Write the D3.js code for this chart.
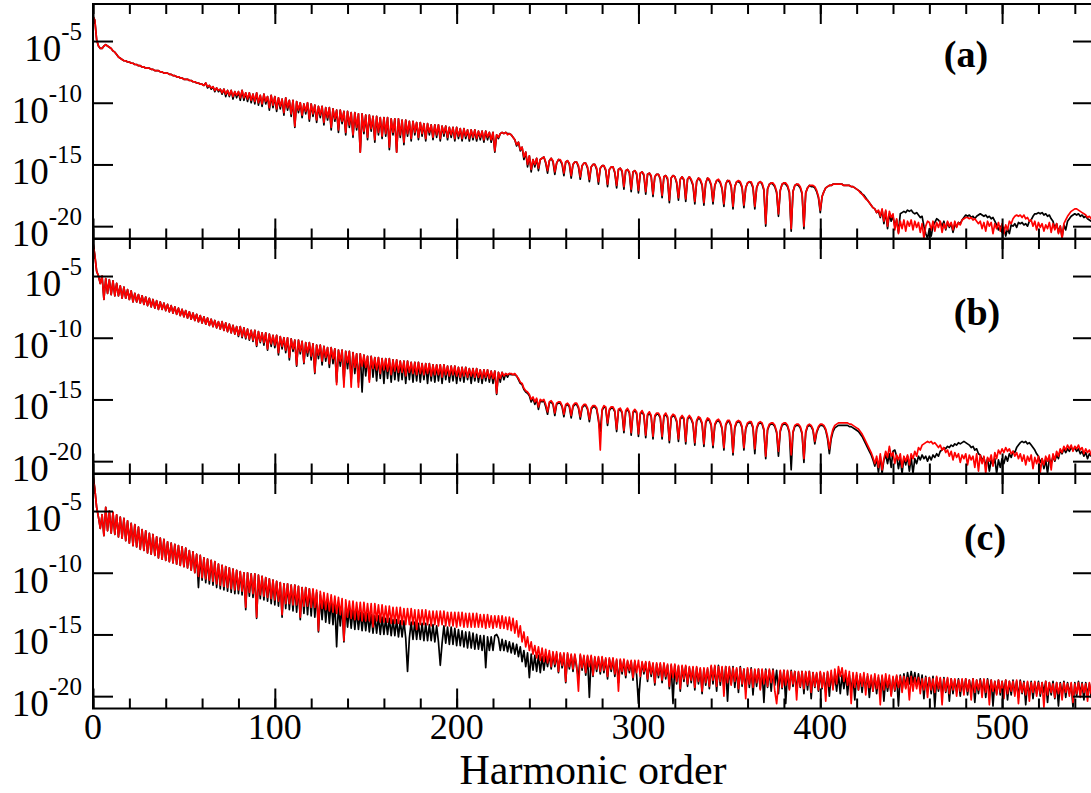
<!DOCTYPE html>
<html>
<head>
<meta charset="utf-8">
<script src="https://cdn.jsdelivr.net/npm/d3@7"></script>
<style>
	body{margin:0;background:#fff;}
	svg{display:block;}
	text{font-family:"Liberation Serif","Times New Roman",serif;fill:#000;}
</style>
</head>
<body>
<svg id="chart" width="1091" height="793"></svg>
<script>
	// harmonic order of every sample, values below are log10 of the intensity
	var harmonics = d3.range(0, 551);

	var aRed = [
		-3.0,-3.3,-4.9,-5.4,-5.6,-5.6,-5.4,-5.3,-5.4,-5.5,
		-5.6,-5.8,-5.9,-6.1,-6.3,-6.4,-6.5,-6.6,-6.6,-6.7,
		-6.7,-6.8,-6.8,-6.9,-6.9,-7.0,-7.0,-7.1,-7.1,-7.2,
		-7.2,-7.2,-7.3,-7.3,-7.4,-7.4,-7.4,-7.5,-7.5,-7.6,
		-7.6,-7.6,-7.7,-7.7,-7.8,-7.8,-7.9,-7.9,-8.0,-8.0,
		-8.1,-8.1,-8.1,-8.2,-8.2,-8.3,-8.3,-8.4,-8.4,-8.5,
		-8.5,-8.6,-8.4,-8.7,-8.6,-8.8,-8.7,-9.0,-8.8,-9.0,
		-8.9,-9.2,-8.9,-9.3,-9.0,-9.4,-9.0,-9.5,-9.1,-9.4,
		-9.1,-9.6,-9.0,-9.6,-9.2,-9.7,-9.2,-9.8,-9.3,-9.9,
		-9.2,-10.0,-9.4,-10.1,-9.3,-9.9,-9.5,-10.4,-9.4,-10.2,
		-9.5,-10.5,-9.6,-10.3,-9.7,-10.8,-9.6,-10.4,-9.8,-10.9,
		-9.8,-11.9,-9.9,-10.6,-10.0,-11.0,-10.1,-10.7,-10.0,-11.3,
		-10.1,-10.9,-10.2,-11.4,-10.3,-11.0,-10.3,-11.6,-10.4,-11.2,
		-10.4,-12.0,-10.5,-11.3,-10.6,-12.2,-10.6,-11.5,-10.7,-12.4,
		-10.7,-11.8,-10.8,-12.6,-10.8,-12.0,-10.9,-14.0,-10.9,-12.3,
		-11.0,-12.8,-11.0,-12.1,-11.1,-13.0,-11.1,-12.4,-11.2,-12.7,
		-11.2,-12.5,-11.2,-13.6,-11.3,-12.4,-11.3,-14.0,-11.3,-12.6,
		-11.4,-13.2,-11.4,-12.5,-11.5,-12.9,-11.5,-12.4,-11.6,-12.8,
		-11.6,-12.5,-11.7,-12.9,-11.7,-12.4,-11.8,-12.8,-11.8,-12.6,
		-11.8,-12.9,-11.9,-12.5,-11.9,-12.8,-12.0,-12.6,-12.0,-12.9,
		-12.0,-12.7,-12.1,-12.9,-12.1,-12.7,-12.2,-12.9,-12.2,-12.8,
		-12.2,-12.9,-12.3,-12.8,-12.3,-13.0,-12.3,-12.8,-12.4,-13.0,
		-12.4,-13.9,-12.6,-12.8,-12.5,-12.4,-12.5,-12.4,-12.6,-12.5,
		-12.6,-12.8,-13.0,-13.4,-13.2,-13.8,-13.6,-14.4,-14.0,-15.0,
		-14.3,-15.4,-14.6,-15.0,-14.5,-15.3,-14.6,-14.5,-14.4,-14.8,
		-15.5,-14.7,-14.5,-14.7,-15.6,-14.9,-14.6,-14.6,-14.9,-15.7,
		-14.8,-14.7,-14.9,-15.9,-15.0,-14.8,-14.8,-15.1,-16.0,-15.1,
		-14.9,-14.9,-15.2,-16.2,-15.2,-15.0,-15.0,-15.3,-16.4,-15.3,
		-15.1,-15.1,-15.4,-16.6,-15.4,-15.2,-15.2,-15.6,-16.7,-15.4,
		-15.3,-15.5,-16.8,-15.5,-15.4,-15.6,-17.0,-15.6,-15.5,-15.7,
		-17.1,-15.7,-15.6,-15.8,-17.2,-15.8,-15.7,-15.9,-17.4,-16.0,
		-15.8,-15.8,-16.1,-17.5,-16.0,-15.9,-16.1,-17.9,-16.1,-15.9,
		-16.0,-16.4,-17.7,-16.2,-16.0,-16.2,-17.8,-16.2,-16.0,-16.2,
		-16.6,-18.0,-16.4,-16.1,-16.2,-16.6,-18.1,-16.5,-16.1,-16.2,
		-16.6,-18.0,-16.7,-16.3,-16.2,-16.4,-16.9,-18.2,-16.6,-16.3,
		-16.3,-16.7,-18.4,-16.8,-16.4,-16.3,-16.4,-16.8,-18.3,-16.9,
		-16.5,-16.4,-16.4,-16.8,-18.4,-16.9,-16.5,-16.4,-16.5,-17.0,
		-19.8,-17.0,-16.6,-16.5,-16.5,-16.7,-17.2,-19.0,-17.1,-16.6,
		-16.5,-16.5,-16.7,-17.2,-20.2,-17.2,-16.7,-16.6,-16.6,-16.8,
		-17.3,-20.0,-17.3,-16.9,-16.7,-16.7,-16.7,-16.8,-17.1,-17.6,
		-18.7,-17.6,-17.2,-16.9,-16.8,-16.7,-16.7,-16.6,-16.6,-16.6,
		-16.6,-16.6,-16.6,-16.7,-16.7,-16.7,-16.7,-16.8,-16.8,-16.9,
		-17.0,-17.1,-17.3,-17.4,-17.6,-17.8,-17.9,-18.1,-18.3,-18.5,
		-18.6,-18.9,-18.7,-19.2,-18.6,-19.6,-18.7,-20.0,-18.8,-19.3,
		-19.0,-20.3,-19.4,-20.6,-19.6,-20.2,-19.5,-20.4,-19.6,-20.0,
		-19.5,-20.3,-19.6,-20.1,-19.7,-20.5,-19.8,-21.0,-20.0,-19.6,
		-19.7,-20.3,-19.6,-20.4,-19.7,-20.1,-19.6,-20.5,-19.8,-20.2,
		-19.6,-20.0,-19.7,-20.3,-19.6,-20.1,-19.7,-19.9,-19.5,-19.4,
		-19.3,-19.3,-19.4,-19.3,-19.5,-19.4,-19.6,-19.8,-19.6,-20.2,
		-19.7,-20.4,-19.6,-20.0,-19.7,-20.6,-19.8,-20.2,-19.7,-20.4,
		-19.8,-20.6,-19.9,-20.3,-19.6,-19.8,-19.4,-19.2,-19.1,-19.2,
		-19.1,-19.3,-19.1,-19.4,-19.3,-19.6,-19.5,-20.0,-19.6,-20.3,
		-19.7,-20.1,-19.8,-20.4,-19.9,-20.2,-19.7,-20.5,-19.8,-20.3,
		-19.8,-20.6,-20.0,-21.0,-19.8,-19.5,-19.2,-19.0,-18.8,-18.7,
		-18.6,-18.6,-18.7,-18.8,-18.9,-19.0,-19.1,-19.3,-19.2,-19.4,-19.3
	];
	var aBlack = [
		-3.0,-3.3,-4.9,-5.4,-5.6,-5.6,-5.4,-5.3,-5.4,-5.5,
		-5.6,-5.8,-5.9,-6.1,-6.3,-6.4,-6.5,-6.6,-6.6,-6.7,
		-6.7,-6.8,-6.8,-6.9,-6.9,-7.0,-7.0,-7.1,-7.1,-7.2,
		-7.2,-7.2,-7.3,-7.3,-7.4,-7.4,-7.4,-7.5,-7.5,-7.6,
		-7.6,-7.6,-7.7,-7.7,-7.8,-7.8,-7.9,-7.9,-8.0,-8.0,
		-8.1,-8.1,-8.1,-8.2,-8.2,-8.3,-8.3,-8.4,-8.4,-8.5,
		-8.5,-8.6,-8.4,-8.8,-8.6,-8.9,-8.7,-9.1,-8.8,-9.1,
		-8.9,-9.3,-8.9,-9.5,-9.0,-9.5,-9.0,-9.7,-9.1,-9.6,
		-9.1,-9.8,-9.0,-9.8,-9.2,-9.9,-9.2,-10.0,-9.3,-10.1,
		-9.2,-10.2,-9.4,-10.3,-9.3,-10.1,-9.5,-10.6,-9.4,-10.4,
		-9.5,-10.7,-9.6,-10.5,-9.7,-11.0,-9.6,-10.6,-9.8,-11.1,
		-9.8,-12.0,-9.9,-10.8,-10.0,-11.2,-10.1,-10.9,-10.0,-11.5,
		-10.1,-11.1,-10.2,-11.6,-10.3,-11.2,-10.3,-11.8,-10.4,-11.4,
		-10.4,-12.2,-10.5,-11.5,-10.6,-12.4,-10.6,-11.7,-10.7,-12.6,
		-10.7,-12.0,-10.8,-12.8,-10.8,-12.2,-10.9,-14.0,-10.9,-12.5,
		-11.0,-13.0,-11.0,-12.3,-11.1,-13.2,-11.1,-12.6,-11.2,-12.9,
		-11.2,-12.7,-11.2,-13.8,-11.3,-12.6,-11.3,-14.0,-11.3,-12.8,
		-11.4,-13.4,-11.4,-12.7,-11.5,-13.1,-11.5,-12.6,-11.6,-13.0,
		-11.6,-12.7,-11.7,-13.1,-11.7,-12.6,-11.8,-13.0,-11.8,-12.8,
		-11.8,-13.1,-11.9,-12.7,-11.9,-13.0,-12.0,-12.8,-12.0,-13.1,
		-12.0,-12.9,-12.1,-13.1,-12.1,-12.9,-12.2,-13.1,-12.2,-13.0,
		-12.2,-13.1,-12.3,-13.0,-12.3,-13.2,-12.3,-13.0,-12.4,-13.2,
		-12.4,-14.0,-12.6,-12.9,-12.5,-12.4,-12.5,-12.4,-12.5,-12.5,
		-12.6,-12.8,-13.0,-13.5,-13.2,-13.9,-13.6,-14.6,-14.0,-15.2,
		-14.3,-15.6,-14.6,-15.2,-14.5,-15.5,-14.6,-14.5,-14.4,-14.9,
		-15.7,-14.7,-14.5,-14.8,-15.8,-14.9,-14.6,-14.7,-15.0,-15.9,
		-14.8,-14.7,-15.0,-16.1,-15.0,-14.8,-14.8,-15.2,-16.2,-15.1,
		-14.9,-14.9,-15.3,-16.4,-15.2,-15.0,-15.0,-15.4,-16.6,-15.3,
		-15.1,-15.1,-15.5,-16.8,-15.4,-15.2,-15.2,-15.7,-16.9,-15.4,
		-15.3,-15.6,-17.0,-15.5,-15.4,-15.7,-17.2,-15.6,-15.5,-15.8,
		-17.3,-15.7,-15.6,-15.9,-17.4,-15.8,-15.7,-16.0,-17.6,-16.0,
		-15.8,-15.8,-16.2,-17.7,-16.0,-15.9,-16.2,-18.1,-16.1,-15.9,
		-16.0,-16.5,-17.9,-16.2,-16.0,-16.3,-18.0,-16.2,-16.0,-16.3,
		-16.7,-18.2,-16.4,-16.1,-16.3,-16.7,-18.3,-16.5,-16.1,-16.3,
		-16.7,-18.2,-16.7,-16.3,-16.3,-16.5,-17.0,-18.4,-16.6,-16.3,
		-16.4,-16.8,-18.6,-16.8,-16.4,-16.4,-16.5,-16.9,-18.5,-16.9,
		-16.5,-16.4,-16.5,-16.9,-18.6,-16.9,-16.5,-16.4,-16.6,-17.1,
		-20.0,-17.0,-16.6,-16.5,-16.6,-16.8,-17.3,-19.2,-17.1,-16.6,
		-16.5,-16.6,-16.8,-17.3,-20.4,-17.2,-16.7,-16.6,-16.7,-16.9,
		-17.4,-20.2,-17.3,-16.9,-16.7,-16.8,-16.8,-16.9,-17.2,-17.7,
		-18.9,-17.6,-17.2,-16.9,-16.8,-16.7,-16.7,-16.6,-16.6,-16.6,
		-16.6,-16.6,-16.6,-16.7,-16.7,-16.7,-16.7,-16.8,-16.8,-16.9,
		-17.0,-17.1,-17.2,-17.4,-17.5,-17.7,-17.9,-18.1,-18.3,-18.5,
		-18.6,-18.9,-18.8,-19.3,-18.7,-19.8,-18.8,-20.2,-19.0,-19.6,
		-19.2,-20.0,-19.5,-20.5,-19.0,-18.9,-18.8,-18.9,-18.7,-18.8,
		-18.7,-18.9,-19.0,-18.9,-19.1,-19.3,-19.2,-20.0,-20.6,-21.0,
		-20.2,-20.8,-20.0,-19.7,-19.4,-19.5,-19.7,-20.0,-19.6,-20.3,
		-19.7,-20.1,-19.8,-20.5,-19.9,-20.0,-19.7,-19.8,-19.5,-19.3,
		-19.1,-19.2,-19.1,-19.3,-19.2,-19.4,-19.2,-19.1,-19.0,-19.1,
		-19.2,-19.1,-19.3,-19.2,-19.4,-19.3,-19.6,-19.9,-20.3,-20.0,
		-20.5,-20.1,-20.8,-20.2,-20.6,-19.9,-20.0,-19.8,-20.1,-19.7,
		-19.8,-19.7,-19.9,-19.8,-20.0,-19.6,-19.5,-19.2,-19.0,-19.0,
		-18.9,-19.0,-18.9,-19.1,-19.0,-19.2,-19.1,-19.4,-19.6,-20.2,
		-19.8,-20.5,-20.0,-20.9,-19.9,-20.3,-19.6,-19.4,-19.2,-19.1,
		-19.0,-19.1,-19.0,-19.2,-19.1,-19.3,-19.2,-19.4,-19.5,-19.6,-19.6
	];

	var bRed = [
		-2.3,-3.3,-4.6,-5.0,-5.6,-5.0,-6.9,-5.2,-6.4,-5.3,
		-6.5,-5.4,-6.6,-5.6,-6.6,-5.8,-6.8,-5.9,-6.8,-6.1,
		-6.9,-6.2,-7.1,-6.4,-7.1,-6.5,-7.2,-6.6,-7.3,-6.7,
		-7.4,-6.8,-7.5,-6.9,-7.6,-7.0,-7.7,-7.1,-7.7,-7.2,
		-7.8,-7.3,-7.9,-7.4,-8.0,-7.5,-8.1,-7.6,-8.2,-7.7,
		-8.3,-7.8,-8.4,-7.9,-8.5,-8.0,-8.6,-8.1,-8.7,-8.2,
		-8.8,-8.3,-8.9,-8.4,-9.0,-8.5,-9.1,-8.6,-9.2,-8.7,
		-9.3,-8.7,-9.4,-8.8,-9.5,-8.9,-9.6,-9.0,-9.7,-9.1,
		-9.8,-9.1,-9.9,-9.2,-10.0,-9.3,-10.1,-9.4,-10.2,-9.4,
		-10.6,-9.5,-10.3,-9.6,-10.4,-9.6,-10.9,-9.7,-10.5,-9.8,
		-10.6,-9.8,-11.2,-9.9,-10.7,-10.0,-11.0,-10.0,-11.6,-10.1,
		-10.9,-10.2,-12.2,-10.2,-11.1,-10.3,-12.0,-10.4,-11.2,-10.4,
		-11.5,-10.5,-12.8,-10.6,-11.4,-10.6,-11.9,-10.7,-11.6,-10.8,
		-12.1,-10.8,-11.7,-10.9,-13.8,-11.0,-11.9,-11.0,-14.0,-11.1,
		-12.0,-11.1,-14.0,-11.2,-12.4,-11.3,-14.0,-11.3,-12.3,-11.4,
		-12.4,-11.5,-13.6,-11.5,-12.5,-11.6,-12.6,-11.6,-12.9,-11.7,
		-12.6,-11.7,-12.7,-11.7,-13.0,-11.8,-12.7,-11.8,-12.8,-11.9,
		-12.8,-11.9,-13.1,-11.9,-12.8,-12.0,-12.9,-12.0,-13.0,-12.0,
		-12.9,-12.1,-13.0,-12.1,-12.9,-12.1,-13.1,-12.2,-13.0,-12.2,
		-13.0,-12.2,-13.2,-12.2,-13.0,-12.3,-13.1,-12.3,-13.0,-12.3,
		-13.1,-12.4,-13.2,-12.4,-13.1,-12.4,-13.2,-12.5,-13.1,-12.5,
		-13.2,-12.5,-13.2,-12.6,-13.3,-12.6,-13.2,-12.6,-13.3,-12.7,
		-13.3,-12.7,-14.5,-12.8,-13.3,-12.8,-13.1,-12.9,-13.0,-12.9,
		-12.9,-13.0,-12.9,-13.1,-13.3,-13.6,-13.7,-14.1,-14.3,-14.4,
		-14.6,-15.0,-14.8,-15.2,-14.9,-15.6,-15.0,-15.1,-15.0,-15.4,
		-16.0,-15.2,-15.1,-15.3,-16.1,-15.3,-15.2,-15.2,-15.5,-16.2,
		-15.4,-15.3,-15.5,-16.3,-15.5,-15.3,-15.3,-15.6,-16.4,-15.6,
		-15.4,-15.4,-15.7,-16.6,-15.7,-15.5,-15.5,-15.7,-16.5,-19.1,
		-15.8,-15.5,-15.6,-16.9,-15.8,-15.6,-15.6,-15.9,-17.4,-15.8,
		-15.7,-16.0,-17.5,-15.9,-15.7,-16.0,-17.7,-16.0,-15.8,-16.0,
		-17.8,-16.1,-15.9,-16.2,-17.9,-16.2,-16.0,-16.3,-18.0,-16.3,
		-16.1,-16.1,-16.4,-18.0,-16.3,-16.1,-16.4,-18.3,-16.4,-16.2,
		-16.3,-16.7,-18.2,-16.5,-16.3,-16.5,-18.4,-16.5,-16.3,-16.5,
		-16.9,-18.5,-16.7,-16.4,-16.5,-16.9,-18.6,-16.8,-16.5,-16.6,
		-17.0,-18.7,-17.0,-16.7,-16.6,-16.8,-17.3,-18.9,-17.0,-16.7,
		-16.7,-17.1,-19.3,-17.2,-16.8,-16.7,-16.8,-17.2,-18.9,-17.3,
		-16.9,-16.8,-16.8,-17.2,-19.0,-17.3,-16.9,-16.8,-16.9,-17.4,
		-19.6,-17.4,-17.0,-16.9,-16.9,-17.1,-17.6,-19.2,-17.5,-17.0,
		-16.9,-16.9,-17.1,-17.6,-19.5,-17.6,-17.1,-17.0,-17.0,-17.2,
		-17.7,-19.8,-17.6,-17.1,-17.0,-17.1,-17.4,-18.4,-17.6,-17.2,
		-17.0,-17.0,-17.1,-17.4,-18.0,-19.0,-18.0,-17.4,-17.1,-17.0,
		-16.9,-16.9,-16.9,-16.9,-16.9,-16.9,-17.0,-17.0,-17.1,-17.2,
		-17.3,-17.4,-17.6,-17.8,-18.1,-18.4,-18.7,-19.0,-19.3,-19.7,
		-20.2,-19.6,-20.5,-19.4,-20.7,-19.8,-19.2,-19.7,-18.8,-19.6,
		-19.3,-20.2,-19.5,-19.9,-19.4,-20.5,-19.6,-20.0,-19.5,-20.3,
		-19.4,-19.8,-19.2,-19.6,-18.9,-19.1,-18.7,-18.6,-18.5,-18.4,
		-18.5,-18.4,-18.6,-18.5,-18.7,-18.9,-18.7,-19.1,-18.9,-19.3,
		-19.1,-19.6,-19.2,-19.9,-19.3,-19.7,-19.4,-20.1,-19.5,-19.8,
		-19.4,-20.3,-19.5,-19.9,-19.6,-20.5,-19.4,-20.8,-19.5,-20.2,
		-19.6,-21.0,-19.7,-20.0,-19.5,-20.4,-19.3,-19.8,-19.1,-19.4,
		-19.0,-19.3,-18.9,-19.2,-19.0,-19.4,-19.2,-19.6,-19.3,-19.8,
		-19.4,-20.0,-19.5,-20.3,-19.6,-20.0,-19.5,-20.6,-19.7,-20.2,
		-19.6,-20.9,-19.8,-20.3,-19.6,-20.0,-19.5,-20.7,-19.4,-19.9,
		-19.2,-19.6,-19.0,-19.3,-18.8,-19.1,-18.7,-19.0,-18.7,-19.2,
		-18.8,-19.0,-18.7,-19.1,-18.9,-19.4,-19.0,-19.3,-19.1,-19.5,-19.2
	];
	var bBlack = [
		-2.3,-3.3,-4.6,-5.0,-5.6,-5.0,-6.9,-5.2,-6.4,-5.3,
		-6.5,-5.4,-6.6,-5.6,-6.6,-5.8,-6.8,-5.9,-6.8,-6.1,
		-6.9,-6.2,-7.1,-6.4,-7.1,-6.5,-7.2,-6.6,-7.3,-6.7,
		-7.4,-6.8,-7.5,-6.9,-7.6,-7.0,-7.7,-7.1,-7.7,-7.2,
		-7.8,-7.3,-7.9,-7.4,-8.0,-7.5,-8.1,-7.6,-8.2,-7.7,
		-8.3,-7.8,-8.4,-7.9,-8.5,-8.0,-8.6,-8.1,-8.7,-8.2,
		-8.8,-8.3,-8.9,-8.4,-9.0,-8.5,-9.1,-8.6,-9.2,-8.7,
		-9.3,-8.7,-9.4,-8.8,-9.5,-8.9,-9.6,-9.0,-9.7,-9.1,
		-9.9,-9.1,-10.0,-9.2,-10.1,-9.3,-10.2,-9.4,-10.3,-9.4,
		-10.7,-9.5,-10.4,-9.6,-10.6,-9.6,-11.0,-9.7,-10.7,-9.8,
		-10.8,-9.8,-11.4,-9.9,-10.9,-10.0,-11.2,-10.0,-11.8,-10.1,
		-11.1,-10.2,-12.3,-10.2,-11.3,-10.3,-12.1,-10.4,-11.5,-10.4,
		-11.8,-10.5,-12.9,-10.6,-11.7,-10.6,-12.2,-10.7,-11.9,-10.8,
		-12.4,-10.8,-12.1,-10.9,-13.6,-11.0,-12.3,-11.0,-13.6,-11.1,
		-12.5,-11.1,-13.4,-11.2,-12.9,-11.3,-13.6,-11.3,-14.4,-11.4,
		-13.1,-11.5,-13.4,-11.5,-13.2,-11.6,-13.5,-11.6,-13.3,-11.7,
		-13.7,-11.7,-13.3,-11.7,-13.6,-11.8,-13.4,-11.8,-13.5,-11.9,
		-13.4,-11.9,-13.7,-11.9,-13.4,-12.0,-13.6,-12.0,-13.5,-12.0,
		-13.6,-12.1,-13.4,-12.1,-13.7,-12.1,-13.5,-12.2,-13.6,-12.2,
		-13.5,-12.2,-13.7,-12.2,-13.4,-12.3,-13.6,-12.3,-13.5,-12.3,
		-13.7,-12.4,-13.5,-12.4,-13.6,-12.4,-13.4,-12.5,-13.7,-12.5,
		-13.5,-12.5,-13.6,-12.6,-13.7,-12.6,-13.5,-12.6,-13.6,-12.7,
		-13.7,-12.7,-14.6,-12.8,-13.6,-12.8,-13.4,-12.9,-13.2,-12.9,
		-13.0,-13.0,-13.0,-13.1,-13.4,-13.7,-13.8,-14.2,-14.4,-14.5,
		-14.7,-15.2,-14.9,-15.4,-15.0,-15.8,-15.1,-15.2,-15.1,-15.6,
		-16.2,-15.3,-15.2,-15.4,-16.3,-15.4,-15.3,-15.3,-15.6,-16.4,
		-15.5,-15.4,-15.6,-16.5,-15.6,-15.4,-15.4,-15.7,-16.6,-15.7,
		-15.5,-15.5,-15.8,-16.8,-15.8,-15.6,-15.6,-15.8,-16.7,-17.6,
		-15.9,-15.6,-15.7,-17.1,-15.9,-15.7,-15.7,-16.0,-17.6,-15.9,
		-15.8,-16.1,-17.7,-16.0,-15.8,-16.1,-17.9,-16.1,-15.9,-16.1,
		-18.0,-16.2,-16.0,-16.3,-18.1,-16.3,-16.1,-16.4,-18.2,-16.4,
		-16.2,-16.2,-16.5,-18.2,-16.4,-16.2,-16.5,-18.5,-16.5,-16.3,
		-16.4,-16.8,-18.4,-16.6,-16.4,-16.6,-18.6,-16.6,-16.4,-16.6,
		-17.0,-18.7,-16.8,-16.5,-16.6,-17.0,-18.8,-16.9,-16.6,-16.7,
		-17.1,-18.9,-17.1,-16.8,-16.7,-16.9,-17.4,-19.1,-17.1,-16.8,
		-16.8,-17.2,-19.5,-17.3,-16.9,-16.8,-16.9,-17.3,-19.1,-17.4,
		-17.0,-16.9,-16.9,-17.3,-19.4,-17.4,-17.0,-16.9,-17.0,-17.5,
		-19.8,-17.5,-17.1,-17.0,-17.0,-17.2,-17.7,-19.6,-17.6,-17.1,
		-17.0,-17.0,-17.2,-17.7,-20.7,-17.7,-17.2,-17.1,-17.1,-17.3,
		-17.8,-20.1,-17.7,-17.2,-17.1,-17.2,-17.5,-18.6,-17.7,-17.3,
		-17.1,-17.1,-17.2,-17.5,-18.2,-19.4,-18.2,-17.6,-17.3,-17.2,
		-17.1,-17.1,-17.1,-17.1,-17.1,-17.1,-17.2,-17.2,-17.3,-17.4,
		-17.5,-17.6,-17.8,-18.0,-18.3,-18.6,-18.9,-19.2,-19.5,-19.9,
		-20.4,-19.8,-20.9,-19.6,-21.0,-19.9,-19.5,-20.2,-19.4,-20.5,
		-19.2,-19.1,-19.6,-20.6,-19.8,-21.0,-19.7,-20.3,-19.6,-20.8,
		-19.7,-21.0,-19.8,-20.2,-19.6,-19.9,-19.5,-19.8,-19.6,-20.0,
		-19.6,-19.9,-19.5,-19.7,-19.4,-19.6,-19.2,-19.1,-18.9,-19.0,
		-18.8,-18.9,-18.7,-18.8,-18.6,-18.7,-18.5,-18.6,-18.5,-18.4,
		-18.5,-18.6,-18.7,-18.9,-18.8,-19.1,-19.0,-19.4,-19.5,-19.9,
		-19.7,-20.4,-19.8,-20.8,-19.9,-20.3,-19.8,-21.0,-19.9,-20.5,
		-19.8,-20.2,-19.6,-20.0,-19.4,-19.7,-19.2,-19.3,-18.9,-18.7,
		-18.5,-18.4,-18.5,-18.4,-18.6,-18.5,-18.7,-18.9,-19.1,-19.4,
		-19.6,-20.1,-19.8,-20.6,-19.9,-21.0,-19.8,-20.2,-19.6,-20.0,
		-19.5,-19.8,-19.1,-19.4,-19.0,-19.3,-19.0,-19.2,-18.9,-19.1,
		-18.9,-19.2,-19.0,-19.4,-19.2,-19.6,-19.3,-19.8,-19.4,-19.6,-19.5
	];

	var cRed = [
		-2.1,-3.2,-4.7,-5.5,-6.4,-5.3,-7.0,-4.7,-6.6,-5.0,
		-6.8,-5.1,-6.9,-5.3,-7.1,-5.5,-7.2,-5.6,-7.4,-5.8,
		-7.6,-6.0,-7.8,-6.1,-7.9,-6.3,-8.1,-6.5,-8.2,-6.6,
		-8.4,-6.8,-8.5,-6.9,-8.6,-7.1,-8.8,-7.2,-8.9,-7.3,
		-9.0,-7.5,-9.1,-7.6,-9.2,-7.7,-9.3,-7.8,-9.4,-7.9,
		-9.5,-8.0,-9.6,-8.2,-9.8,-8.3,-10.0,-8.5,-10.3,-8.6,
		-10.4,-8.8,-10.5,-8.9,-10.6,-9.0,-10.7,-9.1,-10.9,-9.3,
		-11.0,-9.4,-11.1,-9.5,-11.2,-9.6,-11.3,-9.7,-11.4,-9.8,
		-11.4,-9.9,-11.5,-10.0,-12.8,-10.0,-11.6,-10.1,-11.7,-10.1,
		-13.6,-10.2,-11.8,-10.3,-11.9,-10.4,-12.0,-10.5,-12.1,-10.6,
		-12.2,-10.7,-12.3,-10.8,-13.4,-10.9,-12.5,-10.9,-12.5,-11.0,
		-12.6,-11.0,-12.6,-11.1,-13.6,-11.2,-12.7,-11.2,-12.7,-11.3,
		-12.8,-11.3,-12.8,-11.4,-14.7,-11.5,-12.9,-11.6,-13.0,-11.7,
		-13.1,-11.8,-13.2,-11.9,-13.3,-12.0,-13.4,-12.1,-15.5,-12.2,
		-13.6,-12.3,-13.7,-12.3,-13.8,-12.4,-13.8,-12.4,-13.9,-12.4,
		-13.9,-12.5,-13.9,-12.5,-14.4,-12.5,-13.9,-12.6,-14.0,-12.6,
		-14.0,-12.7,-14.0,-12.7,-14.1,-12.8,-14.1,-12.8,-14.1,-12.8,
		-14.2,-12.9,-14.2,-12.9,-14.2,-12.9,-14.2,-13.0,-14.6,-13.0,
		-14.2,-13.0,-14.2,-13.0,-14.2,-13.1,-14.3,-13.1,-14.2,-13.1,
		-14.3,-13.1,-14.2,-13.1,-14.3,-13.2,-14.3,-13.2,-14.3,-13.2,
		-14.4,-13.2,-14.3,-13.2,-14.4,-13.3,-14.4,-13.3,-14.4,-13.3,
		-14.4,-13.3,-14.4,-13.4,-14.4,-13.4,-14.5,-13.4,-14.4,-13.5,
		-14.5,-13.5,-14.4,-13.5,-14.5,-13.5,-14.5,-13.6,-14.6,-13.6,
		-14.7,-13.7,-14.9,-13.9,-15.2,-14.3,-15.6,-14.8,-16.0,-15.2,
		-16.3,-15.6,-16.6,-15.9,-16.9,-16.0,-17.1,-16.1,-17.2,-16.2,
		-17.3,-16.3,-17.6,-16.4,-17.4,-16.4,-18.0,-16.5,-17.5,-16.5,
		-18.8,-16.5,-17.6,-16.6,-17.8,-16.6,-17.5,-19.6,-16.6,-17.7,
		-16.7,-18.1,-16.7,-17.6,-16.7,-18.3,-16.8,-17.8,-16.8,-18.0,
		-16.8,-17.9,-16.9,-18.4,-16.9,-17.8,-16.9,-18.2,-17.0,-19.6,
		-17.0,-18.0,-17.0,-18.3,-17.1,-17.9,-17.1,-18.5,-17.1,-18.1,
		-17.1,-18.4,-17.2,-18.0,-17.2,-18.6,-17.2,-18.2,-17.3,-18.9,
		-17.3,-18.3,-17.3,-18.7,-17.3,-18.4,-17.4,-19.2,-17.4,-18.5,
		-17.4,-18.8,-17.5,-19.4,-17.5,-18.6,-17.5,-19.0,-17.6,-18.7,
		-17.6,-19.3,-17.6,-18.8,-17.7,-19.6,-17.7,-18.9,-17.7,-19.2,
		-17.5,-18.7,-17.5,-19.2,-17.6,-18.8,-17.6,-20.0,-17.6,-18.9,
		-17.6,-19.1,-17.7,-18.8,-17.7,-19.4,-17.7,-19.0,-17.8,-20.2,
		-17.7,-19.0,-17.8,-19.3,-17.8,-18.9,-17.8,-19.5,-17.8,-19.0,
		-17.9,-19.2,-17.8,-18.9,-17.9,-19.6,-20.6,-19.0,-17.9,-19.3,
		-17.9,-19.1,-17.9,-19.5,-18.0,-19.0,-18.0,-20.3,-18.0,-19.2,
		-18.0,-19.4,-18.0,-19.1,-18.0,-19.7,-18.1,-19.2,-18.1,-19.5,
		-18.0,-19.3,-18.1,-20.4,-18.0,-19.2,-17.9,-19.5,-17.8,-19.0,
		-17.6,-18.4,-17.7,-18.8,-17.9,-19.1,-18.0,-20.6,-18.1,-19.3,
		-18.1,-19.5,-18.2,-19.2,-18.1,-19.9,-18.2,-19.3,-18.3,-19.6,
		-18.2,-19.4,-18.3,-20.7,-18.3,-19.5,-18.2,-19.3,-18.3,-20.0,
		-18.4,-19.5,-18.3,-19.3,-18.4,-19.7,-18.4,-19.4,-18.5,-20.3,
		-18.4,-19.6,-18.5,-19.4,-18.5,-19.8,-18.6,-19.5,-18.5,-20.1,
		-18.5,-19.5,-18.6,-19.7,-18.4,-19.4,-18.5,-20.7,-18.6,-19.6,
		-18.5,-19.8,-18.6,-19.5,-18.6,-20.0,-18.7,-19.6,-18.6,-19.9,
		-18.6,-19.6,-18.7,-20.3,-18.6,-19.7,-18.7,-19.5,-18.7,-20.1,
		-18.6,-19.7,-18.7,-20.7,-18.7,-19.6,-18.8,-19.9,-18.7,-19.7,
		-18.8,-20.2,-18.7,-19.8,-18.8,-19.6,-18.8,-20.0,-18.7,-20.6,
		-18.8,-19.7,-18.9,-19.9,-18.8,-20.4,-18.9,-19.7,-18.8,-20.0,
		-18.9,-19.8,-18.9,-20.9,-18.8,-19.9,-18.9,-19.7,-19.0,-20.1,
		-18.9,-19.8,-19.0,-20.3,-18.9,-19.7,-19.0,-20.0,-18.9,-20.5,
		-19.0,-19.8,-18.9,-20.1,-19.0,-19.7,-19.0,-20.4,-18.9,-19.8,-19.0
	];
	var cBlack = [
		-2.1,-3.2,-4.7,-5.5,-6.4,-5.3,-7.0,-4.7,-6.6,-5.0,
		-6.8,-5.1,-6.9,-5.3,-7.1,-5.5,-7.2,-5.6,-7.4,-5.8,
		-7.6,-6.0,-7.8,-6.1,-7.9,-6.3,-8.1,-6.5,-8.2,-6.6,
		-8.4,-6.8,-8.5,-6.9,-8.6,-7.1,-8.8,-7.2,-8.9,-7.3,
		-9.0,-7.5,-9.1,-7.6,-9.2,-7.7,-9.3,-7.8,-9.4,-7.9,
		-9.5,-8.0,-9.6,-8.2,-9.8,-8.3,-10.0,-8.5,-11.2,-8.6,
		-10.6,-8.8,-10.8,-8.9,-10.9,-9.0,-11.0,-9.1,-11.2,-9.3,
		-11.3,-9.4,-11.4,-9.5,-11.5,-9.6,-11.6,-9.7,-11.7,-9.8,
		-11.7,-9.9,-11.8,-10.0,-13.0,-10.0,-11.9,-10.1,-12.0,-10.1,
		-13.7,-10.2,-12.1,-10.3,-12.2,-10.4,-12.3,-10.5,-12.5,-10.6,
		-12.6,-10.7,-12.7,-10.8,-13.6,-10.9,-12.9,-10.9,-13.0,-11.0,
		-13.1,-11.0,-13.2,-11.1,-13.8,-11.2,-13.3,-11.2,-13.4,-11.3,
		-13.5,-11.4,-13.6,-11.6,-14.8,-11.8,-13.8,-12.0,-14.0,-12.2,
		-14.1,-12.3,-14.2,-12.4,-16.0,-12.6,-14.3,-12.7,-15.6,-12.8,
		-14.4,-12.9,-14.5,-13.0,-14.6,-13.1,-14.6,-13.2,-14.7,-13.3,
		-14.7,-13.3,-14.8,-13.4,-14.9,-13.5,-14.9,-13.5,-15.0,-13.6,
		-15.0,-13.7,-15.0,-13.7,-15.1,-13.8,-15.1,-13.8,-15.2,-13.9,
		-15.2,-13.9,-15.3,-18.0,-15.3,-14.0,-15.4,-14.0,-15.4,-14.1,
		-15.4,-14.1,-15.5,-14.1,-15.5,-14.2,-15.5,-14.2,-15.6,-14.3,
		-15.6,-17.5,-15.7,-14.3,-15.7,-14.4,-15.8,-14.4,-15.8,-14.5,
		-15.9,-14.6,-15.9,-14.7,-16.0,-14.8,-16.1,-14.8,-16.1,-14.9,
		-16.2,-15.0,-16.2,-15.1,-16.3,-15.1,-17.7,-15.2,-16.3,-15.2,
		-16.3,-15.1,-15.0,-15.3,-16.3,-15.4,-16.3,-15.5,-16.4,-15.6,
		-16.5,-15.7,-16.6,-15.8,-16.8,-16.0,-17.2,-16.3,-17.6,-16.5,
		-18.5,-16.6,-17.9,-16.7,-18.0,-16.7,-18.1,-16.8,-17.9,-16.8,
		-17.6,-16.6,-17.8,-16.6,-17.6,-16.6,-18.1,-16.6,-17.7,-16.6,
		-18.9,-16.6,-17.8,-16.7,-18.0,-16.7,-17.7,-18.5,-16.7,-17.9,
		-16.8,-18.3,-16.8,-20.1,-16.8,-18.4,-16.9,-18.0,-16.9,-18.2,
		-16.9,-18.1,-17.0,-18.6,-17.0,-18.0,-17.0,-18.4,-17.1,-18.9,
		-17.1,-18.2,-17.1,-18.5,-17.2,-18.1,-17.2,-18.7,-17.2,-18.3,
		-20.6,-18.6,-17.3,-18.2,-17.3,-18.8,-17.3,-18.4,-17.4,-19.1,
		-17.4,-18.5,-17.4,-18.9,-17.4,-18.6,-17.5,-19.4,-17.5,-20.6,
		-17.5,-19.0,-17.6,-19.6,-17.6,-18.8,-17.6,-19.2,-17.7,-18.9,
		-17.7,-19.5,-17.7,-19.0,-17.8,-19.8,-17.8,-19.1,-17.8,-19.4,
		-17.6,-19.0,-17.6,-19.6,-17.5,-19.1,-17.7,-19.3,-17.6,-20.4,
		-17.7,-19.0,-17.6,-19.3,-17.8,-19.7,-17.6,-19.2,-17.8,-19.5,
		-17.8,-19.3,-17.7,-19.9,-17.9,-19.2,-17.8,-19.4,-17.9,-20.5,
		-17.8,-19.3,-17.9,-19.6,-17.8,-19.1,-17.9,-19.8,-18.0,-19.4,
		-17.9,-20.6,-18.0,-19.4,-17.9,-19.2,-18.0,-19.6,-18.1,-19.3,
		-18.0,-19.8,-18.1,-19.5,-18.0,-20.2,-18.1,-19.3,-18.2,-19.6,
		-18.1,-19.4,-18.2,-19.7,-18.1,-20.0,-18.2,-19.3,-18.3,-19.6,
		-18.2,-19.8,-18.3,-19.4,-18.2,-19.9,-18.3,-19.5,-18.4,-20.3,
		-18.3,-19.5,-18.4,-19.7,-18.3,-19.4,-18.4,-20.1,-18.5,-19.6,
		-18.4,-19.8,-18.5,-19.5,-18.4,-20.4,-18.5,-19.6,-18.6,-19.9,
		-18.5,-19.6,-18.4,-20.8,-18.3,-19.5,-18.2,-19.3,-18.1,-19.0,
		-18.0,-18.9,-18.1,-19.2,-18.2,-19.4,-18.3,-20.2,-18.4,-19.6,
		-18.5,-19.8,-18.4,-20.9,-18.5,-19.6,-18.6,-19.9,-18.5,-19.7,
		-18.6,-20.4,-18.6,-19.8,-18.7,-19.6,-18.6,-20.0,-18.7,-19.7,
		-18.6,-19.9,-18.7,-19.6,-18.6,-20.5,-18.7,-19.8,-18.6,-19.7,
		-18.7,-20.1,-18.6,-19.7,-18.7,-20.8,-18.8,-19.8,-18.7,-19.9,
		-18.8,-19.7,-18.7,-20.3,-18.8,-19.9,-18.7,-19.8,-18.8,-20.1,
		-18.7,-19.8,-18.8,-20.7,-18.9,-19.9,-18.8,-20.2,-18.9,-19.8,
		-18.8,-20.0,-18.9,-19.7,-18.8,-20.5,-18.9,-19.9,-18.8,-20.2,
		-18.9,-20.8,-18.9,-19.9,-18.8,-20.1,-18.9,-19.8,-19.0,-20.9,
		-18.9,-20.0,-18.8,-19.8,-18.9,-20.3,-18.9,-19.9,-19.0,-20.1,-19.0
	];

	var panelLabels = ["(a)", "(b)", "(c)"];
	var xTickLabels = [0, 100, 200, 300, 400, 500];
	var yTickExponents = [-5, -10, -15, -20];
	var xTitle = "Harmonic order";

	var svg = d3.select("#chart");
	var left = 93, right = 1093;
	var panelTop = [4, 239, 474];
	var panelH = 234.5;
	var series = [[aBlack, aRed], [bBlack, bRed], [cBlack, cRed]];
	var labelPos = [[966, 67], [977, 325], [985, 550]];

	var x = d3.scaleLinear().domain([0, 550]).range([left, right]);

	panelTop.forEach(function(top, i) {
		var y = d3.scaleLog().domain([1e-21, 1e-2]).range([top + panelH, top]);
		var bottom = top + panelH;

		svg.append("clipPath").attr("id", "clip" + i)
			.append("rect").attr("x", left).attr("y", top).attr("width", right - left).attr("height", panelH);

		var line = d3.line()
			.x(function(d, j) { return x(harmonics[j]); })
			.y(function(d) { return y(Math.pow(10, d)); });

		var g = svg.append("g").attr("clip-path", "url(#clip" + i + ")");
		g.append("path").datum(series[i][0]).attr("d", line)
			.attr("fill", "none").attr("stroke", "#000").attr("stroke-width", 1.7).attr("stroke-linejoin", "round");
		g.append("path").datum(series[i][1]).attr("d", line)
			.attr("fill", "none").attr("stroke", "#ff0000").attr("stroke-width", 1.7).attr("stroke-linejoin", "round");

		// ticks on all four sides, pointing inward
		var minor = d3.range(0, 551, 20);
		var styleAxis = function(sel) {
			sel.select(".domain").remove();
			sel.selectAll("line").attr("stroke", "#000").attr("stroke-width", 2);
		};
		svg.append("g").attr("transform", "translate(0," + top + ")")
			.call(d3.axisBottom(x).tickValues(minor).tickSize(10).tickFormat("")).call(styleAxis);
		svg.append("g").attr("transform", "translate(0," + top + ")")
			.call(d3.axisBottom(x).tickValues(xTickLabels).tickSize(20).tickFormat("")).call(styleAxis);
		svg.append("g").attr("transform", "translate(0," + bottom + ")")
			.call(d3.axisTop(x).tickValues(minor).tickSize(10).tickFormat("")).call(styleAxis);
		svg.append("g").attr("transform", "translate(0," + bottom + ")")
			.call(d3.axisTop(x).tickValues(xTickLabels).tickSize(20).tickFormat("")).call(styleAxis);

		var yVals = yTickExponents.map(function(e) { return Math.pow(10, e); });
		svg.append("g").attr("transform", "translate(" + left + ",0)")
			.call(d3.axisRight(y).tickValues(yVals).tickSize(20).tickFormat("")).call(styleAxis);
		svg.append("g").attr("transform", "translate(" + right + ",0)")
			.call(d3.axisLeft(y).tickValues(yVals).tickSize(20).tickFormat("")).call(styleAxis);

		svg.append("rect").attr("x", left).attr("y", top).attr("width", right - left).attr("height", panelH)
			.attr("fill", "none").attr("stroke", "#000").attr("stroke-width", 2);

		yTickExponents.forEach(function(e) {
			var t = svg.append("text").attr("x", 82).attr("y", y(Math.pow(10, e)) + 20).attr("text-anchor", "end");
			t.append("tspan").attr("font-size", 37).text("10");
			t.append("tspan").attr("font-size", 25).attr("dy", -21).text(String(e));
		});

		svg.append("text").attr("x", labelPos[i][0]).attr("y", labelPos[i][1])
			.attr("text-anchor", "middle").attr("font-size", 38).attr("font-weight", "bold")
			.text(panelLabels[i]);
	});

	var lastBottom = panelTop[2] + panelH;
	xTickLabels.forEach(function(v) {
		svg.append("text").attr("x", x(v)).attr("y", lastBottom + 30).attr("text-anchor", "middle")
			.attr("font-size", 36).text(v);
	});
	svg.append("text").attr("x", (left + right) / 2).attr("y", 784).attr("text-anchor", "middle")
		.attr("font-size", 42).text(xTitle);
</script>
</body>
</html>
